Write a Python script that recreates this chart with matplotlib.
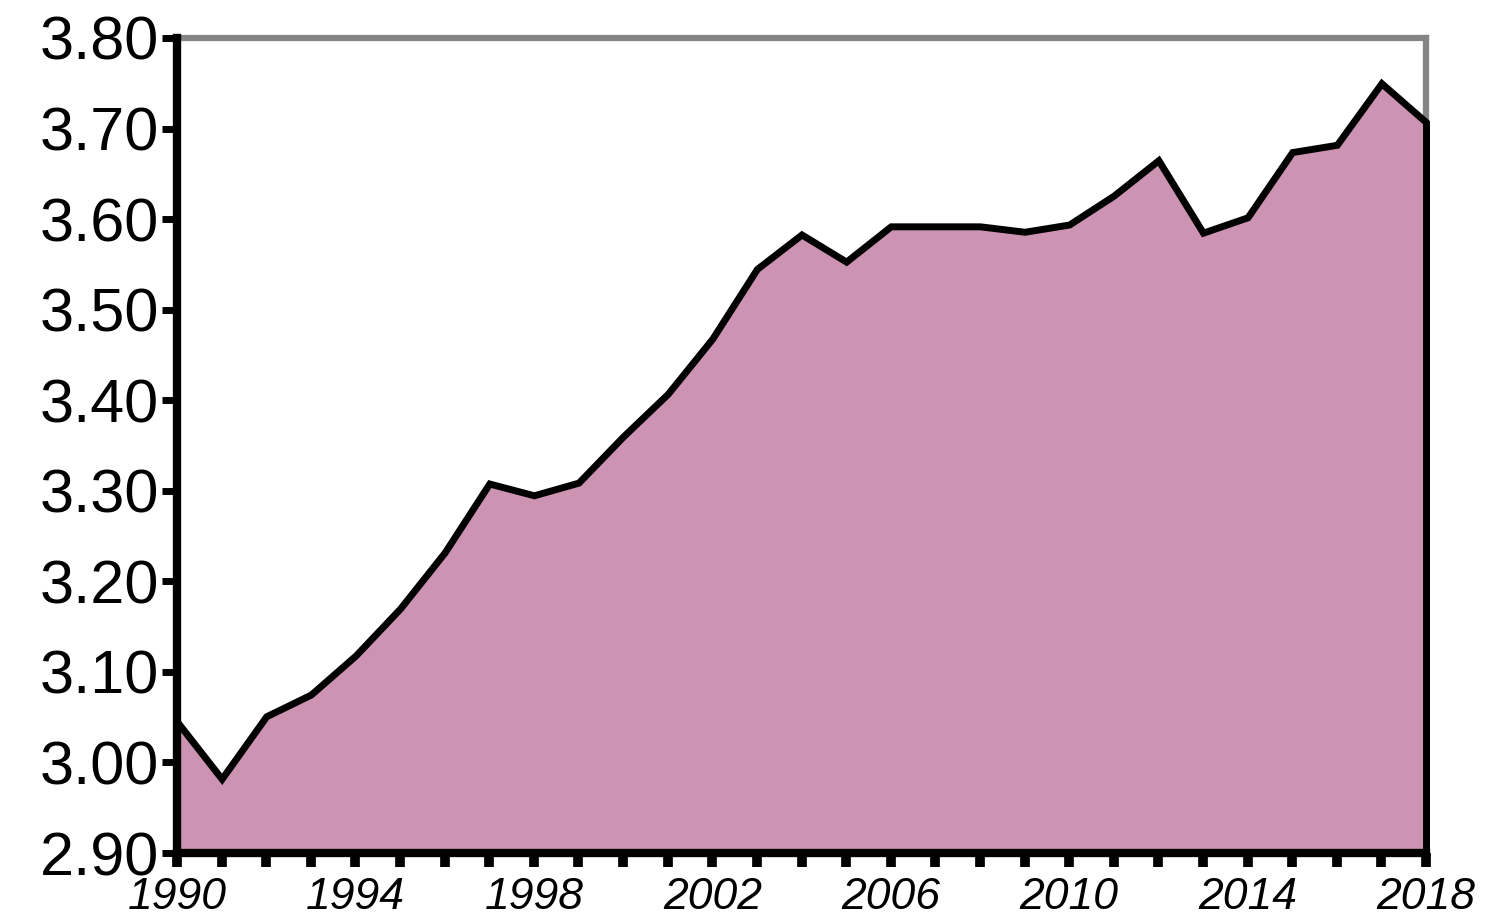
import matplotlib
matplotlib.use("Agg")
import matplotlib.pyplot as plt

years = list(range(1990, 2019))
values = [3.045, 2.982, 3.051, 3.075, 3.118, 3.170, 3.232, 3.308, 3.295, 3.309,
          3.360, 3.407, 3.468, 3.545, 3.583, 3.553, 3.592, 3.592, 3.592, 3.586,
          3.594, 3.626, 3.665, 3.585, 3.602, 3.674, 3.682, 3.750, 3.707]
y_ticks = [2.90, 3.00, 3.10, 3.20, 3.30, 3.40, 3.50, 3.60, 3.70, 3.80]
x_label_years = [1990, 1994, 1998, 2002, 2006, 2010, 2014, 2018]

plt.rcParams['font.family'] = ['Liberation Sans', 'DejaVu Sans']

fig = plt.figure(figsize=(14.89, 9.19), dpi=100)
ax = fig.add_axes([0.1189, 0.0718, 0.9577 - 0.1189, 0.9587 - 0.0718])

ax.fill_between(years, values, y_ticks[0], facecolor='#CD93B2', edgecolor='black',
                linewidth=5, zorder=3, clip_on=False, joinstyle='miter')

ax.set_xlim(years[0], years[-1])
ax.set_ylim(y_ticks[0], y_ticks[-1])

ax.set_yticks(y_ticks)
ax.set_yticklabels([f"{v:.2f}" for v in y_ticks])
ax.set_xticks(years)
ax.set_xticklabels([str(y) if y in x_label_years else '' for y in years])

for side in ['left', 'bottom']:
    ax.spines[side].set_color('black')
    ax.spines[side].set_linewidth(6)
    ax.spines[side].set_zorder(4)
for side in ['top', 'right']:
    ax.spines[side].set_color('#858585')
    ax.spines[side].set_linewidth(4.5)

ax.tick_params(axis='y', direction='out', length=11, width=5, pad=2,
               labelsize=44, colors='black')
ax.tick_params(axis='x', direction='out', length=10, width=7, pad=7,
               labelsize=32, colors='black')
for lab in ax.get_xticklabels():
    lab.set_fontstyle('italic')

fig.savefig('out.png', dpi=100)
